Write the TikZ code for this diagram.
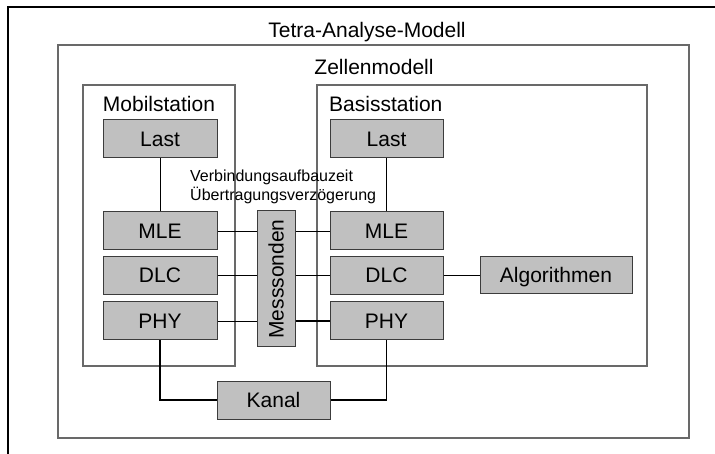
\documentclass[tikz,border=0pt]{standalone}
\usepackage{fontspec}
\setmainfont{Liberation Sans}
\definecolor{boxfill}{RGB}{192,192,192}
\definecolor{boxline}{RGB}{60,60,60}
\definecolor{framegray}{RGB}{105,105,105}
\tikzset{
  layer/.style={draw=boxline, fill=boxfill, line width=1pt, inner sep=0pt,
    minimum height=38pt, text height=15pt, text depth=0pt,
    font=\fontsize{21}{25}\selectfont},
  heading/.style={anchor=base, inner sep=0pt, font=\fontsize{21}{25}\selectfont},
  frame/.style={draw=framegray, line width=1.4pt},
  thinlink/.style={draw=black, line width=0.9pt},
  thicklink/.style={draw=black, line width=1.6pt},
}
\begin{document}
\begin{tikzpicture}[x=1pt, y=-1pt]
\useasboundingbox (0,0) rectangle (715,454);

% outer model frame (continues past the page edge)
\draw[line width=1.5pt, black] (8,454) -- (8,7) -- (715,7);
\node[heading] (tam) at (367,38) {Tetra-Analyse-Modell};

% cell model and the two stations
\draw[frame] (58,45) rectangle (689,438);
\node[heading] (zm) at (374,75) {Zellenmodell};
\draw[frame, line width=1.2pt] (83,85) rectangle (235,366);
\node[heading] (ms) at (159,112) {Mobilstation};
\draw[frame, line width=1.2pt] (317,85) rectangle (647,366);
\node[heading, anchor=base west] (bs) at (329,112) {Basisstation};

% protocol layers, mobile station
\node[layer, minimum width=114pt] (lastL) at (160,139) {Last};
\node[layer, minimum width=114pt] (mleL)  at (160,231) {MLE};
\node[layer, minimum width=114pt] (dlcL)  at (160,275.5) {DLC};
\node[layer, minimum width=114pt] (phyL)  at (160,321) {PHY};

% protocol layers, base station
\node[layer, minimum width=113pt] (lastR) at (386.5,139) {Last};
\node[layer, minimum width=113pt] (mleR)  at (386.5,231) {MLE};
\node[layer, minimum width=113pt] (dlcR)  at (386.5,275.5) {DLC};
\node[layer, minimum width=113pt] (phyR)  at (386.5,321) {PHY};
\node[layer, minimum width=152pt, minimum height=37pt] (algo) at (556,275.5) {Algorithmen};

% probes and channel
\node[draw=boxline, fill=boxfill, line width=1pt, minimum width=38pt,
      minimum height=136pt] (mess) at (276,279) {};
\node[rotate=90, inner sep=0pt, text height=15pt, text depth=0pt,
      font=\fontsize{21}{25}\selectfont] (messlbl) at (mess.center) {Messsonden};
\node[layer, minimum width=113pt] (kanal) at (273.5,400) {Kanal};

% measured quantities (base anchor sits on the last line)
\node[anchor=base west, inner sep=0pt, align=left,
      font=\fontsize{16}{19.5}\selectfont] (meas) at (190,201)
  {Verbindungsaufbauzeit\\Übertragungsverzögerung};

% connections
\draw[thinlink] (lastL) -- (mleL);
\draw[thinlink] (lastR) -- (mleR);
\draw[thinlink] (mleL.east) -- (mleL.east -| mess.west);
\draw[thinlink] (dlcL.east) -- (dlcL.east -| mess.west);
\draw[thinlink] (phyL.east) -- (phyL.east -| mess.west);
\draw[thinlink] (mess.east |- mleR.west) -- (mleR.west);
\draw[thinlink] (mess.east |- dlcR.west) -- (dlcR.west);
\draw[thicklink] (mess.east |- phyR.west) -- (phyR.west);
\draw[thinlink] (dlcR) -- (algo);
\draw[thicklink] (phyL.south) |- (kanal.west);
\draw[thicklink] (kanal.east) -| (phyR.south);
\end{tikzpicture}
\end{document}
